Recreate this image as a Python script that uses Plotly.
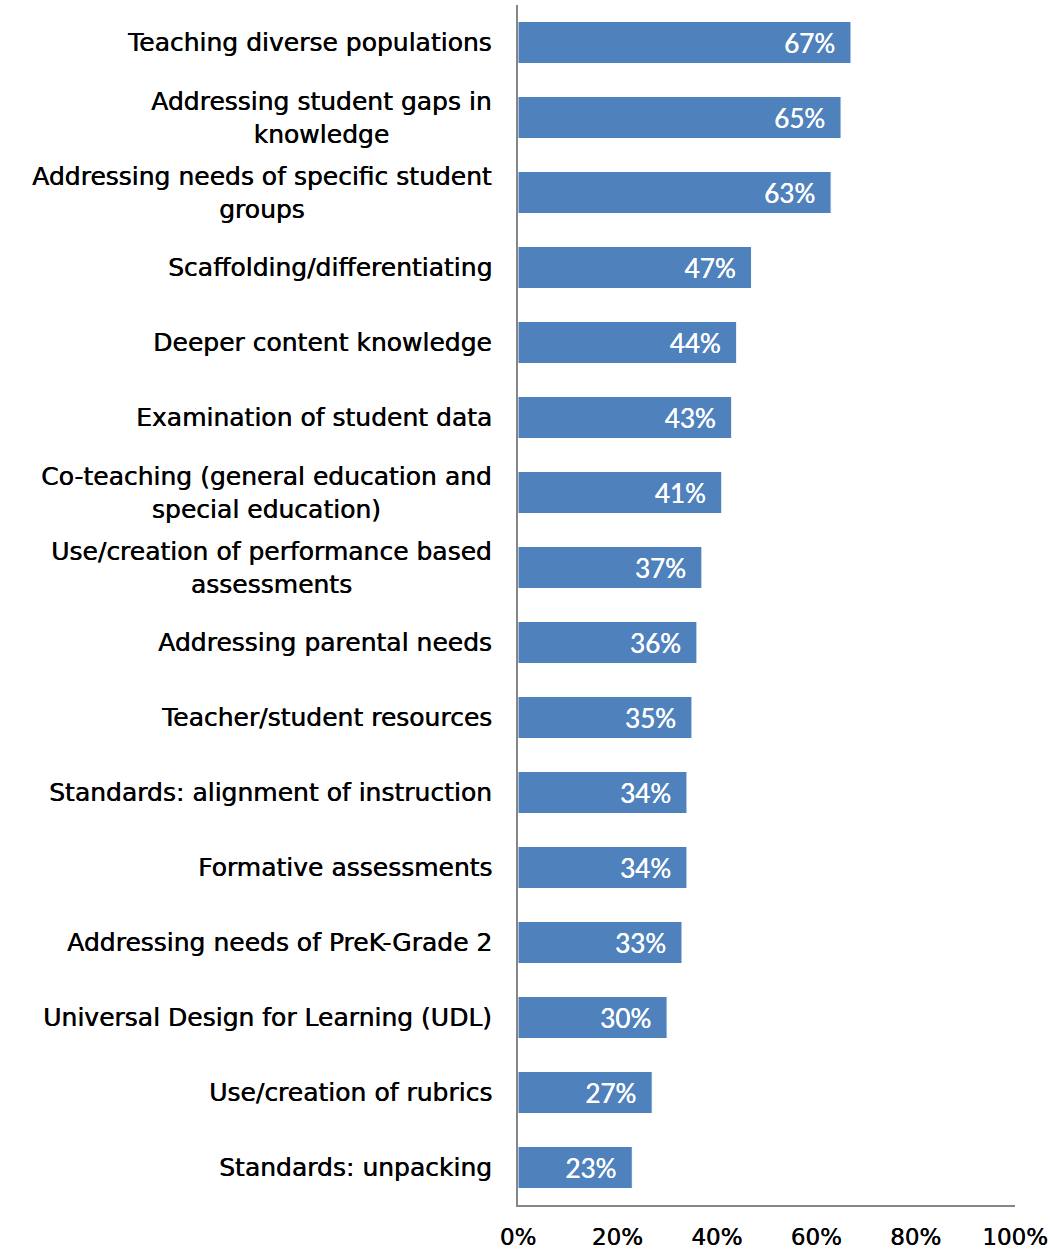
import plotly.graph_objects as go

categories = [
    "Teaching diverse populations",
    "Addressing student gaps in<br>knowledge",
    "Addressing needs of specific student<br>groups",
    "Scaffolding/differentiating",
    "Deeper content knowledge",
    "Examination of student data",
    "Co-teaching (general education and<br>special education)",
    "Use/creation of performance based<br>assessments",
    "Addressing parental needs",
    "Teacher/student resources",
    "Standards: alignment of instruction",
    "Formative assessments",
    "Addressing needs of PreK-Grade 2",
    "Universal Design for Learning (UDL)",
    "Use/creation of rubrics",
    "Standards: unpacking",
]
values = [67, 65, 63, 47, 44, 43, 41, 37, 36, 35, 34, 34, 33, 30, 27, 23]
tick_vals = [0, 20, 40, 60, 80, 100]
tick_text = ["0%", "20%", "40%", "60%", "80%", "100%"]

fig = go.Figure()
fig.add_trace(go.Bar(
    y=categories, x=values, orientation="h",
    marker=dict(color="#4F81BD", line=dict(color="white", width=1)),
    text=[f"{v}%\u2002" for v in values],
    textposition="inside", insidetextanchor="end",
    textfont=dict(family="Lato", size=26, color="white",
                  shadow="0.4px 0 0 white"),
    width=0.56,
))

for c in categories:
    fig.add_annotation(
        x=0, xref="paper", y=c, yref="y",
        text=c, showarrow=False, xanchor="right", yanchor="middle",
        align="center", xshift=-24,
        font=dict(family="DejaVu Sans", size=25, color="black",
                  shadow="0.5px 0 0 black"),
    )

fig.update_layout(
    width=1052, height=1253,
    margin=dict(l=518, r=37, t=5, b=48),
    plot_bgcolor="white", paper_bgcolor="white",
    showlegend=False,
    font=dict(family="DejaVu Sans", size=22, color="black"),
)
fig.update_xaxes(range=[0, 100], tickvals=tick_vals, ticktext=tick_text,
                 showgrid=False, zeroline=False, showline=True, linecolor="#868686",
                 linewidth=2, ticks="", ticklabelstandoff=10, automargin=False,
                 tickfont=dict(family="DejaVu Sans", size=23, color="black",
                               shadow="0.4px 0 0 black"))
fig.update_yaxes(categoryorder="array", categoryarray=categories[::-1],
                 range=[-0.5, len(categories) - 0.5], automargin=False,
                 showgrid=False, zeroline=False, showline=True, linecolor="#868686",
                 linewidth=2, ticks="", showticklabels=False)
fig.write_html("out.html")
